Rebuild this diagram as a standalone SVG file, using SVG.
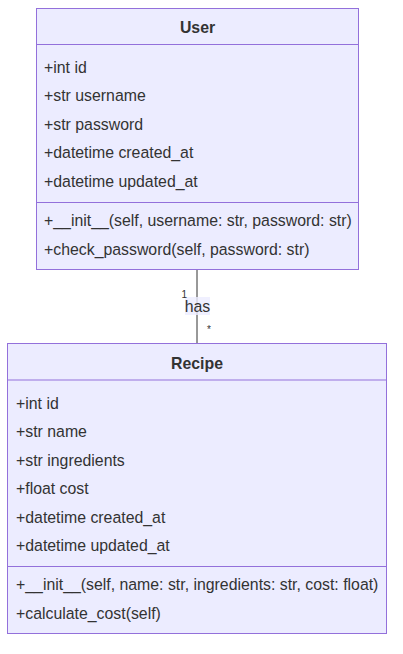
<svg xmlns="http://www.w3.org/2000/svg" width="403" height="654" viewBox="0 0 403 654">
<style>
.box{fill:#ECECFF;stroke:#9370DB;stroke-width:1}
.div{stroke:#9370DB;stroke-width:1}
text{font-family:"Liberation Sans",Arial,sans-serif;font-size:15.85px;fill:#333}
.title{font-weight:bold;text-anchor:middle}
.edge{stroke:#333;stroke-width:1;fill:none}
.card{font-size:10px}
</style>
<rect width="403" height="654" fill="#fff"/>
<g id="connectors">
<path class="edge" d="M197,269.5 V343.5"/>
<rect x="185" y="297" width="25" height="18" fill="#ECECFF" opacity="0.8"/>
<text x="197.5" y="312" text-anchor="middle">has</text>
<text class="card" x="181.5" y="298">1</text>
<text class="card" x="207" y="333">*</text>
</g>
<g id="User">
<rect class="box" x="36.5" y="8.5" width="322" height="261"/>
<line class="div" x1="36.5" y1="44.5" x2="358.5" y2="44.5"/>
<line class="div" x1="36.5" y1="202.5" x2="358.5" y2="202.5"/>
<text class="title" x="197.5" y="32.5">User</text>
<text x="44" y="72.5">+int id</text>
<text x="44" y="101">+str username</text>
<text x="44" y="129.5">+str password</text>
<text x="44" y="158">+datetime created_at</text>
<text x="44" y="186.5">+datetime updated_at</text>
<text x="44" y="225.5">+__init__(self, username: str, password: str)</text>
<text x="44" y="254.5">+check_password(self, password: str)</text>
</g>
<g id="Recipe">
<rect class="box" x="7.5" y="343.5" width="379" height="290"/>
<line class="div" x1="7.5" y1="380" x2="386.5" y2="380"/>
<line class="div" x1="7.5" y1="566.5" x2="386.5" y2="566.5"/>
<text class="title" x="197" y="368.5">Recipe</text>
<text x="16" y="408.5">+int id</text>
<text x="16" y="437">+str name</text>
<text x="16" y="465.5">+str ingredients</text>
<text x="16" y="494">+float cost</text>
<text x="16" y="522.5">+datetime created_at</text>
<text x="16" y="551">+datetime updated_at</text>
<text x="16" y="589.5">+__init__(self, name: str, ingredients: str, cost: float)</text>
<text x="16" y="618.5">+calculate_cost(self)</text>
</g>
</svg>
